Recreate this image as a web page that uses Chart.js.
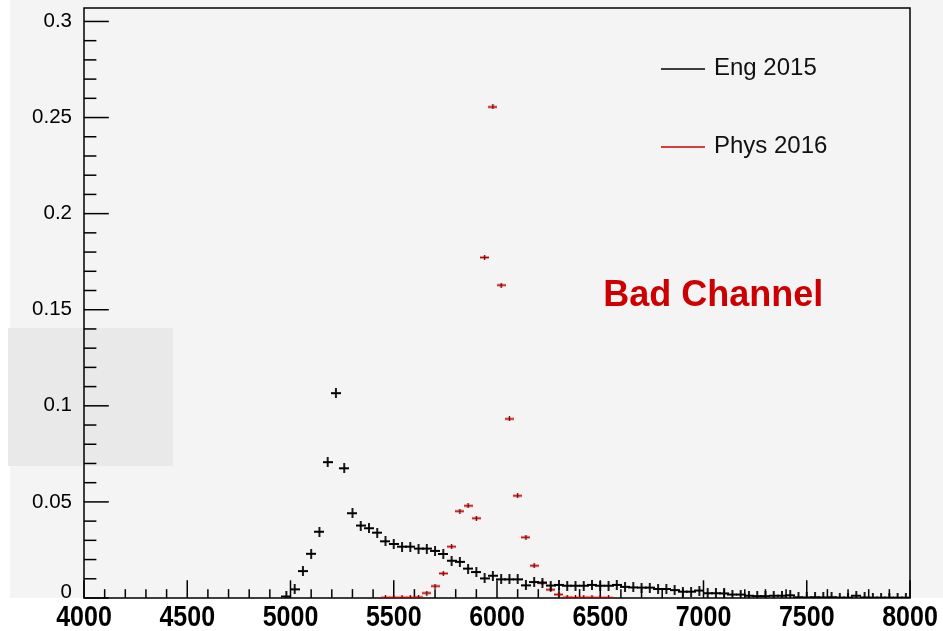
<!DOCTYPE html>
<html>
<head>
<meta charset="utf-8">
<script src="https://cdn.jsdelivr.net/npm/chart.js@4"></script>
<style>
  html, body { margin: 0; padding: 0; background: #fff; }
</style>
</head>
<body>
<canvas id="chart" width="943" height="631"></canvas>
<script>
// histogram bins are 40 wide, values are bin contents (normalised)
const binWidth = 40;

const engLabel = 'Eng 2015';
const engFirstBin = 4980;
const engValues = [
  0.0008, 0.0045, 0.014, 0.023, 0.0345, 0.0707, 0.1066, 0.0675, 0.0441, 0.0377,
  0.0363, 0.034, 0.0295, 0.0281, 0.0267, 0.0267, 0.0257, 0.0257, 0.0245, 0.0229,
  0.0194, 0.0188, 0.0153, 0.0135, 0.0102, 0.0116, 0.0097, 0.0097, 0.0097, 0.0066,
  0.0083, 0.008, 0.0065, 0.0068, 0.0064, 0.0064, 0.0064, 0.0068, 0.0064, 0.0064,
  0.0068, 0.0058, 0.0055, 0.0054, 0.0054, 0.0047, 0.0047, 0.0041, 0.0033, 0.0033,
  0.0039, 0.0025, 0.0025, 0.0024, 0.0018, 0.0018, 0.0012, 0.0010, 0.0010, 0.0012,
  0.0012, 0.0014, 0.0004, 0.0003, 0.0004, 0.0003, 0.0004, 0.0002, 0.0002, 0.0012,
  0.0003, 0.0002, 0.0002, 0.0002, 0.0002, 0.0002
];

const physLabel = 'Phys 2016';
const physFirstBin = 5460;
const physValues = [
  0.0002, 0.0002, 0.0002, 0.0002, 0.0004, 0.0026, 0.0062, 0.0128, 0.0267, 0.0452,
  0.048, 0.0415, 0.1772, 0.2555, 0.1628, 0.0932, 0.0532, 0.0316, 0.0168, 0.0079,
  0.0043, 0.0018, 0.0003, 0.0002, 0.0002, 0.0002, 0.0001, 0.0001
];

const xMajorTicks = [4000, 4500, 5000, 5500, 6000, 6500, 7000, 7500, 8000];
const yMajorTicks = [0, 0.05, 0.1, 0.15, 0.2, 0.25, 0.3];
const yTickLabels = ['0', '0.05', '0.1', '0.15', '0.2', '0.25', '0.3'];
const noteText = 'Bad Channel';

const BG = '#f4f4f4';

function makeCross(color, stemColor, w, h, lw, sw) {
  const c = document.createElement('canvas');
  c.width = w; c.height = h;
  const g = c.getContext('2d');
  g.fillStyle = color;
  g.fillRect(0, h / 2 - lw / 2, w, lw);
  g.fillStyle = stemColor;
  g.fillRect(w / 2 - sw / 2, 0, sw, h);
  return c;
}

const engMarker = makeCross('#000', '#000', 10, 10, 2, 1.8);
const physMarker = makeCross('#c40000', '#700000', 9, 5, 1.8, 1.4);

function toPoints(first, values) {
  return values.map((v, i) => ({ x: first + i * binWidth, y: v }));
}

const rootStyle = {
  id: 'rootStyle',
  beforeDraw(chart) {
    const ctx = chart.ctx;
    const a = chart.chartArea;
    ctx.save();
    ctx.fillStyle = '#fff';
    ctx.fillRect(0, 0, chart.width, chart.height);
    ctx.fillStyle = BG;
    ctx.fillRect(10, 0, chart.width - 10, a.bottom);
    ctx.fillStyle = '#e9e9e9';
    ctx.fillRect(8, 328, 165, 138);
    ctx.restore();
  },
  beforeDatasetsDraw(chart) {
    const ctx = chart.ctx;
    const a = chart.chartArea;
    const xs = chart.scales.x, ys = chart.scales.y;
    ctx.save();
    ctx.strokeStyle = '#000';
    ctx.lineWidth = 1.5;
    // x ticks, every 100, long every 500
    const xLong = 0.03 * a.height;
    for (let v = xs.min; v <= xs.max; v += 100) {
      const px = xs.getPixelForValue(v);
      const len = xMajorTicks.includes(v) ? xLong : xLong / 2;
      ctx.beginPath();
      ctx.moveTo(px, a.bottom);
      ctx.lineTo(px, a.bottom - len);
      ctx.stroke();
    }
    // y ticks, every 0.01, long every 0.05
    const yLong = 0.03 * a.width;
    for (let k = 0; k <= 30; k++) {
      const py = ys.getPixelForValue(k / 100);
      const len = k % 5 === 0 ? yLong : yLong / 2;
      ctx.beginPath();
      ctx.moveTo(a.left, py);
      ctx.lineTo(a.left + len, py);
      ctx.stroke();
    }
    ctx.strokeRect(a.left, a.top, a.right - a.left, a.bottom - a.top);
    ctx.restore();
  },
  afterDraw(chart) {
    const ctx = chart.ctx;
    const a = chart.chartArea;
    const xs = chart.scales.x, ys = chart.scales.y;
    ctx.save();
    ctx.fillStyle = '#000';

    // y tick labels
    ctx.font = '20.5px "Liberation Sans", Arial, sans-serif';
    ctx.textAlign = 'right';
    ctx.textBaseline = 'middle';
    yMajorTicks.forEach((v, i) => {
      const py = ys.getPixelForValue(v);
      ctx.fillText(yTickLabels[i], a.left - 12, i === 0 ? py - 6 : py);
    });

    // x tick labels (bold, a bit tall like the ROOT output)
    ctx.font = 'bold 25px "Liberation Sans", Arial, sans-serif';
    ctx.textAlign = 'center';
    ctx.textBaseline = 'alphabetic';
    xMajorTicks.forEach(v => {
      const px = xs.getPixelForValue(v);
      ctx.save();
      ctx.translate(px, 626);
      ctx.scale(1, 1.18);
      ctx.fillText(String(v), 0, 0);
      ctx.restore();
    });

    // legend
    const items = chart.data.datasets;
    const rows = [69, 147];
    ctx.font = '24px "Liberation Sans", Arial, sans-serif';
    ctx.textAlign = 'left';
    ctx.textBaseline = 'alphabetic';
    items.forEach((ds, i) => {
      ctx.strokeStyle = ds.borderColor;
      ctx.lineWidth = 1.3;
      ctx.beginPath();
      ctx.moveTo(661, rows[i]);
      ctx.lineTo(705, rows[i]);
      ctx.stroke();
      ctx.fillStyle = '#111';
      ctx.fillText(ds.label, 714, rows[i] + 6);
    });

    // note
    ctx.fillStyle = '#cc0000';
    ctx.font = 'bold 36px "Liberation Sans", Arial, sans-serif';
    ctx.fillText(noteText, xs.getPixelForValue(6515), ys.getPixelForValue(0.152));
    ctx.restore();
  }
};

new Chart(document.getElementById('chart'), {
  type: 'scatter',
  data: {
    datasets: [
      {
        label: engLabel,
        data: toPoints(engFirstBin, engValues),
        pointStyle: engMarker,
        borderColor: '#000',
        backgroundColor: '#000'
      },
      {
        label: physLabel,
        data: toPoints(physFirstBin, physValues),
        pointStyle: physMarker,
        borderColor: '#d00000',
        backgroundColor: '#d00000'
      }
    ]
  },
  options: {
    responsive: false,
    animation: false,
    events: [],
    layout: { padding: { top: 8, right: 33, left: 0, bottom: 0 } },
    plugins: { legend: { display: false }, tooltip: { enabled: false } },
    scales: {
      x: {
        type: 'linear',
        min: 4000,
        max: 8000,
        grid: { display: false, drawTicks: false },
        border: { display: false },
        ticks: { display: false },
        afterFit(scale) { scale.height = 33; }
      },
      y: {
        type: 'linear',
        min: 0,
        max: 0.307,
        grid: { display: false, drawTicks: false },
        border: { display: false },
        ticks: { display: false },
        afterFit(scale) { scale.width = 84; }
      }
    }
  },
  plugins: [rootStyle]
});
</script>
</body>
</html>
